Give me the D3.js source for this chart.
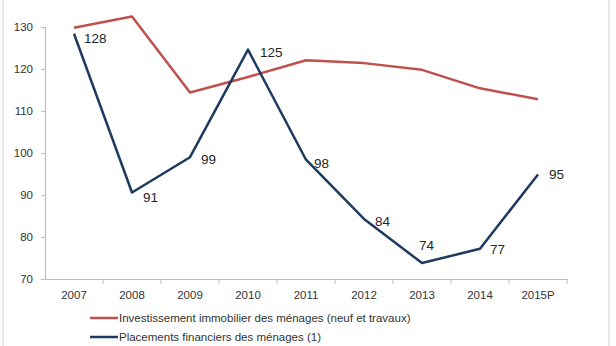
<!DOCTYPE html>
<html>
<head>
<meta charset="utf-8">
<script src="https://cdn.jsdelivr.net/npm/d3@7"></script>
<style>
  body { margin: 0; background: #fff; }
  svg { display: block; font-family: "Liberation Sans", Arial, sans-serif; }
</style>
</head>
<body>
<div id="chart"></div>
<script>
const years = ["2007", "2008", "2009", "2010", "2011", "2012", "2013", "2014", "2015P"];
const immobilier = [129.8, 132.5, 114.4, 118.1, 122.1, 121.4, 119.8, 115.4, 112.8];
const placements = [128.4, 90.6, 99, 124.6, 98.4, 84.3, 73.8, 77.2, 94.9];
const placementLabels = ["128", "91", "99", "125", "98", "84", "74", "77", "95"];
const yTicks = [70, 80, 90, 100, 110, 120, 130];
const seriesNames = [
  "Investissement immobilier des ménages (neuf et travaux)",
  "Placements financiers des ménages (1)"
];

window.onload = () => {
  drawChart();
};

function drawChart() {
  const W = 616, H = 346;
  const svg = d3.select("#chart").append("svg")
    .attr("width", W).attr("height", H);

  // frame of the pasted image
  svg.append("line").attr("x1", 3).attr("x2", 3).attr("y1", 0).attr("y2", H)
    .attr("stroke", "#d0d0d0");
  svg.append("line").attr("x1", 609).attr("x2", 609).attr("y1", 0).attr("y2", H)
    .attr("stroke", "#d0d0d0");

  const x = d3.scaleBand().domain(years).range([45, 567]);
  const y = d3.scaleLinear().domain([70, 130]).range([279, 27]);

  const xAxis = svg.append("g")
    .attr("transform", "translate(0,279)")
    .call(d3.axisBottom(x).tickSize(0).tickPadding(12));
  xAxis.select(".domain").attr("stroke", "#bdbdbd").attr("stroke-width", 1.2);
  xAxis.selectAll("text").attr("font-size", 11.5).attr("fill", "#333");

  // tick marks between categories
  svg.append("g").selectAll("line")
    .data(years)
    .join("line")
    .attr("x1", d => x(d) + x.bandwidth())
    .attr("x2", d => x(d) + x.bandwidth())
    .attr("y1", 279).attr("y2", 284)
    .attr("stroke", "#bdbdbd");

  const yAxis = svg.append("g")
    .attr("transform", "translate(45,0)")
    .call(d3.axisLeft(y).tickValues(yTicks).tickSize(4).tickPadding(8));
  yAxis.select(".domain").attr("stroke", "#bdbdbd").attr("stroke-width", 1.2);
  yAxis.selectAll(".tick line").attr("stroke", "#bdbdbd");
  yAxis.selectAll("text").attr("font-size", 11.5).attr("fill", "#333");

  const cx = d => x(d) + x.bandwidth() / 2;
  const line = d3.line().x(d => cx(d[0])).y(d => y(d[1]));

  svg.append("path")
    .datum(years.map((yr, i) => [yr, immobilier[i]]))
    .attr("d", line)
    .attr("fill", "none")
    .attr("stroke", "#c0504d")
    .attr("stroke-width", 2.5)
    .attr("stroke-linejoin", "round");

  svg.append("path")
    .datum(years.map((yr, i) => [yr, placements[i]]))
    .attr("d", line)
    .attr("fill", "none")
    .attr("stroke", "#1f3a5f")
    .attr("stroke-width", 2.5)
    .attr("stroke-linejoin", "round");

  // data label offsets (dx, dy) relative to the point
  const labelOffsets = [[10, 5], [11, 5], [11, 2], [12, 3], [8, 4], [11, 2], [-3, -18], [10, 1], [11, 0]];
  svg.append("g").selectAll("text")
    .data(years)
    .join("text")
    .attr("x", (d, i) => cx(d) + labelOffsets[i][0])
    .attr("y", (d, i) => y(placements[i]) + labelOffsets[i][1])
    .attr("dy", "0.35em")
    .attr("font-size", 13.5)
    .attr("fill", "#262626")
    .text((d, i) => placementLabels[i]);

  // legend
  const legendColors = ["#c0504d", "#1f3a5f"];
  const legend = svg.append("g");
  legend.selectAll("line")
    .data(seriesNames)
    .join("line")
    .attr("x1", 90).attr("x2", 118)
    .attr("y1", (d, i) => 318 + i * 19)
    .attr("y2", (d, i) => 318 + i * 19)
    .attr("stroke", (d, i) => legendColors[i])
    .attr("stroke-width", 2.5);
  legend.selectAll("text")
    .data(seriesNames)
    .join("text")
    .attr("x", 119)
    .attr("y", (d, i) => 318 + i * 19)
    .attr("dy", "0.35em")
    .attr("font-size", 11.5)
    .attr("fill", "#333")
    .text(d => d);
}
</script>
</body>
</html>
